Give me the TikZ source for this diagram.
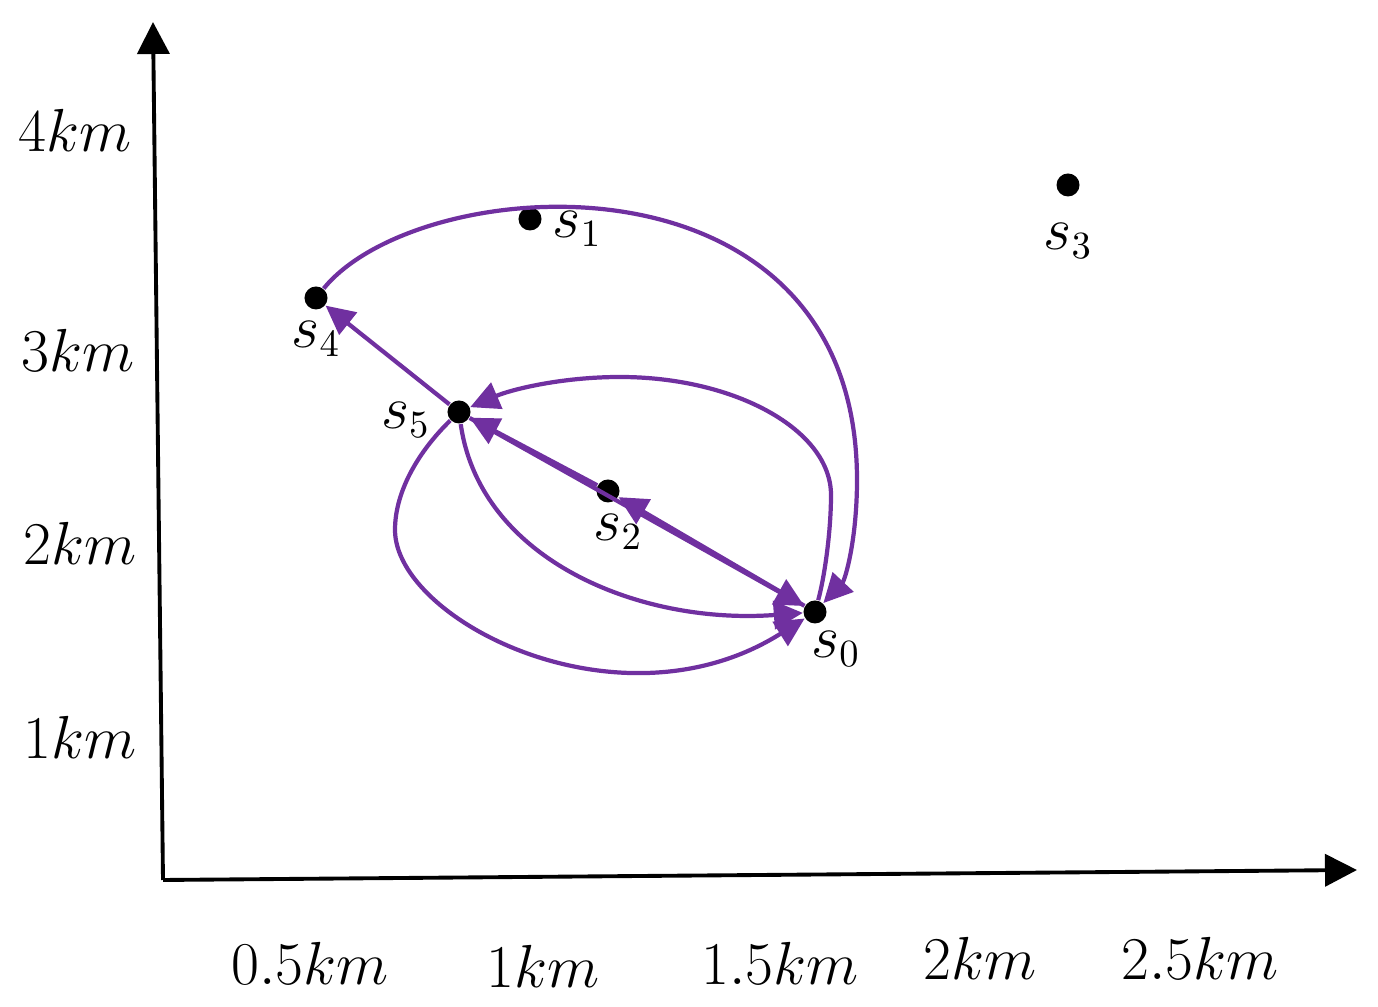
\documentclass[tikz,border=0pt]{standalone}
\usetikzlibrary{positioning,arrows.meta}
\definecolor{routepurple}{HTML}{7030A0}

\begin{document}
\begin{tikzpicture}[x=0.01cm, y=-0.01cm,
  sensor/.style={circle, fill=black, inner sep=0pt, minimum size=2.3mm},
  lbl/.style={inner sep=0pt, font=\fontsize{16}{19}\selectfont},
  axis/.style={line width=1.1pt, -{Triangle[length=3.2mm, width=3.2mm]}},
  route/.style={routepurple, line width=1.2pt, -{Triangle[length=2.9mm, width=2.8mm]}}]
\useasboundingbox (0,0) rectangle (1378,1007);

% axes
\coordinate (origin) at (163,880);
\coordinate (ytop) at (153,22);
\coordinate (xend) at (1357,870);
\draw[axis] (origin) -- (ytop);
\draw[axis] (origin) -- (xend);

\node[lbl] (y4) at (75,130) {$4km$};
\node[lbl] (y3) at (78,350) {$3km$};
\node[lbl] (y2) at (80,543) {$2km$};
\node[lbl] (y1) at (80,737) {$1km$};

\node[lbl] (x05) at (310,963) {$0.5km$};
\node[lbl] (x10) at (543,966) {$1km$};
\node[lbl] (x15) at (780,963) {$1.5km$};
\node[lbl] (x20) at (980,958) {$2km$};
\node[lbl] (x25) at (1200,958) {$2.5km$};

% stations
\node[sensor] (s0) at (815,612) {};
\node[sensor] (s1) at (530,219) {};
\node[sensor] (s2) at (608,491) {};
\node[sensor] (s3) at (1068,185) {};
\node[sensor] (s4) at (316,298) {};
\node[sensor] (s5) at (459,412) {};

\node[lbl, below right=1mm and -1.3mm of s0] (l0) {$s_0$};
\node[lbl, right=1mm of s1, yshift=-1mm] (l1) {$s_1$};
\node[lbl, below=1mm of s2, xshift=1mm] (l2) {$s_2$};
\node[lbl, below=2.5mm of s3] (l3) {$s_3$};
\node[lbl, below=1mm of s4] (l4) {$s_4$};
\node[lbl, left=1.6mm of s5, yshift=-0.8mm] (l5) {$s_5$};

% routes
\draw[route] (s5) -- (s4);
\draw[route] (s4) .. controls (420,170) and (857,140) .. (857,480)
  .. controls (857,540) and (845,580) .. (s0);
\draw[route] (s0) .. controls (825,575) and (831,530) .. (831,495)
  .. controls (831,430) and (735,377) .. (620,377)
  .. controls (560,377) and (510,390) .. (s5);
\draw[route] (s5) .. controls (480,560) and (640,625) .. (s0);
\draw[route] (s5) .. controls (420,450) and (395,490) .. (395,530)
  .. controls (395,620) and (620,735) .. (s0);
\draw[route] (s5) -- (s0);
\draw[route] (s0) -- (s2);
\draw[route] (s2) -- (s5);
\end{tikzpicture}
\end{document}
